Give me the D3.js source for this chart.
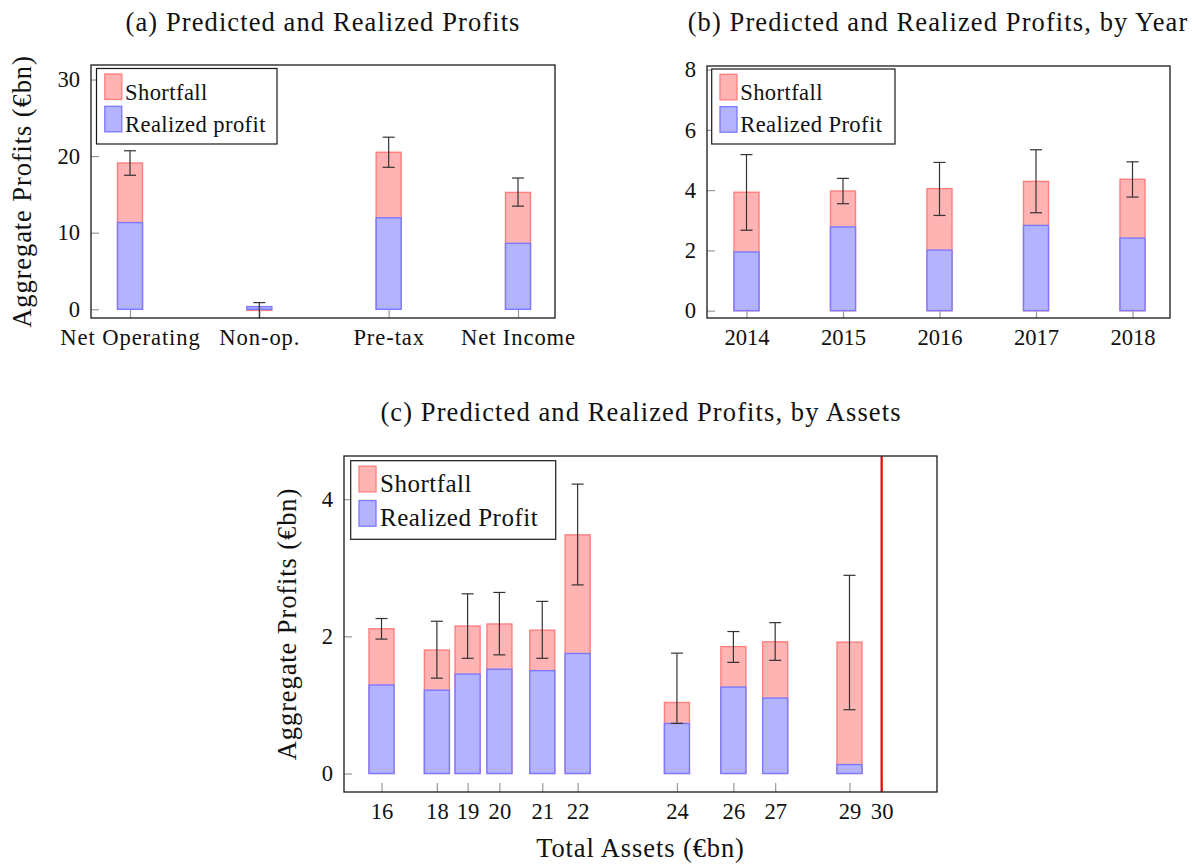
<!DOCTYPE html>
<html>
<head>
<meta charset="utf-8">
<script src="https://cdn.jsdelivr.net/npm/d3@7"></script>
<style>
  html, body { margin: 0; padding: 0; background: #fff; }
  svg { display: block; }
  text { font-family: "Liberation Serif", "DejaVu Serif", "Noto Serif", "Nimbus Roman", "FreeSerif", "Times New Roman", Times, Georgia, serif; fill: #111; }
</style>
</head>
<body>
<svg id="chart" width="1193" height="864"></svg>
<script>
// ---------- DATA ----------
// Panel (a)
const catsA = ["Net Operating", "Non-op.", "Pre-tax", "Net Income"];
const realizedA = [11.32, 0.35, 11.94, 8.61];
const predictedA = [19.1, -0.15, 20.5, 15.26];
const errLowA = [17.5, -1.2, 18.54, 13.47];
const errHighA = [20.7, 0.87, 22.47, 17.14];
const yTicksA = [0, 10, 20, 30];

// Panel (b)
const yearsB = ["2014", "2015", "2016", "2017", "2018"];
const realizedB = [1.95, 2.78, 2.01, 2.83, 2.41];
const predictedB = [3.93, 3.97, 4.05, 4.29, 4.36];
const errLowB = [2.67, 3.55, 3.16, 3.25, 3.77];
const errHighB = [5.18, 4.39, 4.92, 5.34, 4.94];
const yTicksB = [0, 2, 4, 6, 8];

// Panel (c)
const assetPosC = [16, 17.55, 18.41, 19.30, 20.50, 21.49, 24.27, 25.85, 27.02, 29.10];
const assetLabelsC = ["16", "18", "19", "20", "21", "22", "24", "26", "27", "29"];
const realizedC = [1.29, 1.215, 1.45, 1.52, 1.50, 1.75, 0.73, 1.26, 1.10, 0.13];
const predictedC = [2.11, 1.80, 2.15, 2.18, 2.09, 3.48, 1.035, 1.85, 1.92, 1.915];
const errLowC = [1.96, 1.39, 1.68, 1.73, 1.68, 2.75, 0.73, 1.62, 1.65, 0.93];
const errHighC = [2.26, 2.22, 2.62, 2.64, 2.51, 4.22, 1.755, 2.07, 2.20, 2.89];
const thresholdC = 30;
const thresholdLabelC = "30";
const yTicksC = [0, 2, 4];

const titles = [
  "(a) Predicted and Realized Profits",
  "(b) Predicted and Realized Profits, by Year",
  "(c) Predicted and Realized Profits, by Assets"
];
const yLabel = "Aggregate Profits (€bn)";
const xLabelC = "Total Assets (€bn)";
const legendA = ["Shortfall", "Realized profit"];
const legendBC = ["Shortfall", "Realized Profit"];

// ---------- STYLE ----------
const FONT = '"Liberation Serif", "DejaVu Serif", "Noto Serif", "Nimbus Roman", "FreeSerif", "Times New Roman", Times, Georgia, serif';
const RED_FILL = "#ffb3b3", RED_STROKE = "#ff7f7f";
const BLUE_FILL = "#b3b3ff", BLUE_STROKE = "#7a7aff";
const TICK_COLOR = "#9a9a9a";
const ERR_COLOR = "#333";
const BAR_W = 25;
const CAP_W = 12;

const svg = d3.select("#chart");

function drawPanel(o) {
  const g = svg.append("g");
  const { left, right, top, bottom } = o.frame;
  const x = o.x, y = o.y;

  const clipId = "clip" + o.id;
  svg.append("defs").append("clipPath").attr("id", clipId)
    .append("rect").attr("x", left).attr("y", top)
    .attr("width", right - left).attr("height", bottom - top);

  const xAxis = d3.axisBottom(x).tickSizeInner(-9).tickSizeOuter(0).tickPadding(10.5);
  if (o.xTickValues) xAxis.tickValues(o.xTickValues);
  if (o.xTickFormat) xAxis.tickFormat(o.xTickFormat);
  const gx = g.append("g").attr("transform", `translate(0,${bottom})`).call(xAxis);
  const yAxis = d3.axisLeft(y).tickValues(o.yTicks).tickFormat(d3.format("d"))
    .tickSizeInner(-8).tickSizeOuter(0).tickPadding(11);
  const gy = g.append("g").attr("transform", `translate(${left},0)`).call(yAxis);
  [gx, gy].forEach(a => {
    a.select(".domain").remove();
    a.selectAll(".tick line").attr("stroke", TICK_COLOR).attr("stroke-width", 1.2);
    a.selectAll(".tick text").attr("fill", "#111")
      .attr("font-family", FONT).style("font-family", FONT)
      .style("font-size", "22.6px");
  });
  gx.selectAll(".tick text").style("letter-spacing", o.xLetterSpacing || "0px");

  const plot = g.append("g").attr("clip-path", `url(#${clipId})`);
  const n = o.pos.length;
  for (let i = 0; i < n; i++) {
    const cx = x(o.pos[i]);
    const p = o.pred[i], r = o.real[i];
    plot.append("rect")
      .attr("x", cx - BAR_W / 2).attr("width", BAR_W)
      .attr("y", Math.min(y(0), y(p))).attr("height", Math.abs(y(0) - y(p)))
      .attr("fill", RED_FILL).attr("stroke", RED_STROKE).attr("stroke-width", 1.4);
    plot.append("rect")
      .attr("x", cx - BAR_W / 2).attr("width", BAR_W)
      .attr("y", Math.min(y(0), y(r))).attr("height", Math.abs(y(0) - y(r)))
      .attr("fill", BLUE_FILL).attr("stroke", BLUE_STROKE).attr("stroke-width", 1.4);
  }
  if (o.threshold !== undefined) {
    plot.append("line")
      .attr("x1", x(o.threshold)).attr("x2", x(o.threshold))
      .attr("y1", top).attr("y2", bottom)
      .attr("stroke", "#ee0000").attr("stroke-width", 2.2);
  }
  for (let i = 0; i < n; i++) {
    const cx = x(o.pos[i]);
    const y1 = y(o.lo[i]), y2 = y(o.hi[i]);
    plot.append("line").attr("x1", cx).attr("x2", cx).attr("y1", y1).attr("y2", y2)
      .attr("stroke", ERR_COLOR).attr("stroke-width", 1.2);
    [y1, y2].forEach(yy => plot.append("line")
      .attr("x1", cx - CAP_W / 2).attr("x2", cx + CAP_W / 2).attr("y1", yy).attr("y2", yy)
      .attr("stroke", ERR_COLOR).attr("stroke-width", 1.2));
  }

  g.append("rect").attr("x", left).attr("y", top)
    .attr("width", right - left).attr("height", bottom - top)
    .attr("fill", "none").attr("stroke", "#1a1a1a").attr("stroke-width", 1.3);

  const L = o.legend;
  g.append("rect").attr("x", L.x).attr("y", L.y).attr("width", L.w).attr("height", L.h)
    .attr("fill", "#fff").attr("stroke", "#1a1a1a").attr("stroke-width", 1.2);
  const cols = [[RED_FILL, RED_STROKE], [BLUE_FILL, BLUE_STROKE]];
  L.labels.forEach((lab, k) => {
    const sy = L.y + L.sw0 + k * L.step;
    g.append("rect").attr("x", L.x + 8.3).attr("y", sy).attr("width", 17).attr("height", L.sh)
      .attr("fill", cols[k][0]).attr("stroke", cols[k][1]).attr("stroke-width", 1.3);
    g.append("text").attr("x", L.x + L.tx).attr("y", sy + L.sh)
      .style("font-size", L.fs + "px").style("letter-spacing", L.ls)
      .text(lab);
  });

  svg.append("text").attr("x", o.title.x).attr("y", o.title.y)
    .attr("text-anchor", "middle")
    .style("font-size", "26.5px").style("letter-spacing", "1.1px")
    .text(o.title.text);

  if (o.yLabel) {
    svg.append("text")
      .attr("transform", `translate(${o.yLabel.x},${(top + bottom) / 2}) rotate(-90)`)
      .attr("text-anchor", "middle")
      .style("font-size", "26.5px").style("letter-spacing", "0.9px")
      .text(yLabel);
  }
}

const fa = { left: 91, right: 555, top: 65, bottom: 318 };
drawPanel({
  id: "a", frame: fa,
  x: d3.scalePoint().domain(catsA).range([fa.left + 39, fa.right - 37]),
  y: d3.scaleLinear().domain([-1.14, 31.9]).range([fa.bottom, fa.top]),
  pos: catsA, real: realizedA, pred: predictedA, lo: errLowA, hi: errHighA,
  yTicks: yTicksA, xLetterSpacing: "0.9px",
  legend: { x: 96.5, y: 68.5, w: 180.5, h: 75.5, labels: legendA, sw0: 5.5, step: 32.3, sh: 25.5, tx: 28.5, fs: 22.6, ls: "0.4px" },
  title: { x: 323, y: 31, text: titles[0] },
  yLabel: { x: 31 }
});

const fb = { left: 707, right: 1170, top: 66, bottom: 318 };
drawPanel({
  id: "b", frame: fb,
  x: d3.scalePoint().domain(yearsB).range([fb.left + 39.5, fb.right - 37.5]),
  y: d3.scaleLinear().domain([-0.243, 8.12]).range([fb.bottom, fb.top]),
  pos: yearsB, real: realizedB, pred: predictedB, lo: errLowB, hi: errHighB,
  yTicks: yTicksB,
  legend: { x: 711.7, y: 69, w: 183.3, h: 75, labels: legendBC, sw0: 5.3, step: 32.4, sh: 25.5, tx: 28.5, fs: 22.6, ls: "0.4px" },
  title: { x: 938, y: 31, text: titles[1] }
});

const fc = { left: 344, right: 937, top: 456, bottom: 792 };
drawPanel({
  id: "c", frame: fc,
  x: d3.scaleLinear().domain([14.95, 31.55]).range([fc.left, fc.right]),
  y: d3.scaleLinear().domain([-0.27, 4.63]).range([fc.bottom, fc.top]),
  pos: assetPosC, real: realizedC, pred: predictedC, lo: errLowC, hi: errHighC,
  xTickValues: assetPosC.concat([thresholdC]),
  xTickFormat: (d, i) => assetLabelsC.concat([thresholdLabelC])[i],
  threshold: thresholdC,
  yTicks: yTicksC,
  legend: { x: 350.7, y: 460.7, w: 205, h: 78.6, labels: legendBC, sw0: 5.5, step: 34.3, sh: 25.7, tx: 29.3, fs: 25, ls: "0.5px" },
  title: { x: 641, y: 421, text: titles[2] },
  yLabel: { x: 296 }
});

svg.append("text").attr("x", (fc.left + fc.right) / 2).attr("y", 857)
  .attr("text-anchor", "middle")
  .style("font-size", "26.5px").style("letter-spacing", "0.9px")
  .text(xLabelC);
</script>
</body>
</html>
